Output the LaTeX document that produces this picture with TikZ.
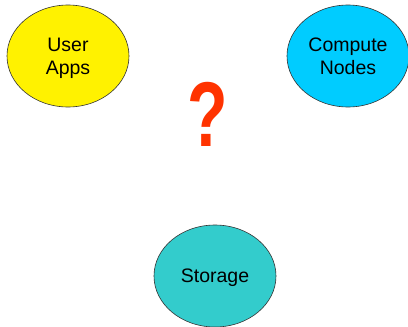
\documentclass[tikz,border=0pt]{standalone}
\usepackage{fontspec}
\setmainfont{Liberation Sans}
\usetikzlibrary{shapes.geometric}
\definecolor{cyanfill}{RGB}{0,204,255}
\definecolor{tealfill}{RGB}{51,204,204}
\definecolor{qred}{RGB}{255,51,0}
\tikzset{
  blob/.style={ellipse, draw=black!80, line width=0.6pt, minimum width=122pt, minimum height=102pt, inner sep=0pt, align=center, text depth=0pt, font=\fontsize{19.5}{23}\selectfont},
}
\begin{document}
\begin{tikzpicture}[x=1pt,y=-1pt]
\useasboundingbox (0,0) rectangle (408,327);
\node[blob, fill=yellow] (user) at (68,56) {User\\Apps};
\node[blob, fill=cyanfill] (compute) at (348,56) {Compute\\Nodes};
\node[blob, fill=tealfill] (storage) at (215,276) {Storage};
\node[text=qred, inner sep=0pt, font=\fontsize{92}{92}\selectfont\bfseries] (q) at (208,114) {\scalebox{0.72}[1]{?}};
\end{tikzpicture}
\end{document}
